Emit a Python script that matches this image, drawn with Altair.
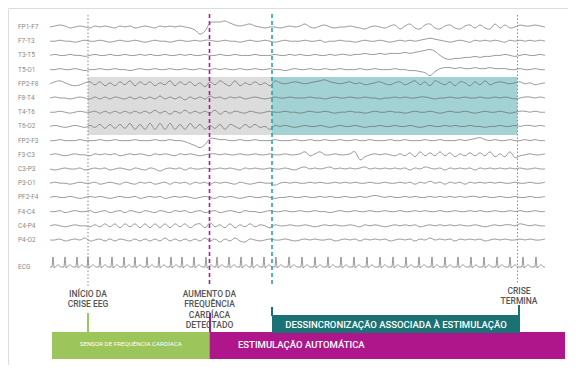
import altair as alt
import pandas as pd

# ---------------- data ----------------
CHANNELS = ["FP1-F7", "F7-T3", "T3-T5", "T5-O1", "FP2-F8", "F8-T4", "T4-T6", "T6-O2",
            "FP2-F3", "F3-C3", "C3-P3", "P3-O1", "PF2-F4", "F4-C4", "C4-P4", "P4-O2"]
T_STEP = 5  # sampling step (time units)

FP1_F7 = [0,1,2,1,-1,0,1,0,-1,1, 0,1,0,-1,1,0,1,-1,0,1, 0,-1,1,0,1,0,1,0,-1,-3,
          -7,-4,4,5,5,6,4,2,1,2, 3,1,0,-1,0,0,-1,0,1,0, 1,3,0,-1,1,2,0,-1,0,0,
          1,0,-1,-2,0,1,0,-1,1,2, -2,1,3,-1,-2,2,3,-1,-2,1, 2,-1,-2,1,2,-1,2,-1,-2,3,
          -1,2,-1,0,2,1,1,2,1,0]
F7_T3 = [0,0,1,0,0,-1,0,1,0,0, 1,0,-1,0,1,0,0,1,0,-1, 0,1,0,0,-1,0,1,0,0,1,
         0,1,1,0,0,1,0,0,-1,0, 1,0,0,1,0,-1,0,1,0,0, 0,1,0,0,1,-1,0,0,1,0,
         0,-1,0,1,0,0,1,0,-1,0, 1,0,1,0,1,2,3,2,1,0, -1,0,1,0,-1,1,0,1,0,1,
         0,-1,1,0,1,0,1,0,1,0]
T3_T5 = [0,1,0,0,1,0,0,-1,0,1, 0,0,1,0,0,1,0,0,1,0, 1,0,0,1,0,0,1,0,1,0,
         0,1,0,0,1,0,0,1,0,0, 0,1,0,0,0,1,0,0,1,0, 1,0,0,1,0,0,1,0,1,1,
         0,1,1,2,1,1,2,1,2,2, 2,3,2,3,4,5,6,4,0,-3, -4,-3,-3,-2,-2,-1,-2,-1,-1,0,
         0,1,0,-1,0,1,0,0,1,0]
T5_O1 = [0,0,1,0,0,1,0,-1,0,0, 1,0,0,1,0,0,-1,0,1,0, 0,1,0,0,1,0,0,1,0,0,
         1,0,0,1,0,1,0,0,1,0, 0,1,0,0,1,0,0,-1,0,1, 0,0,1,0,0,1,0,0,1,0,
         0,0,1,0,0,1,0,0,0,1, 0,0,-1,-1,-2,-3,-6,-2,1,2, 2,1,2,1,1,2,1,1,2,1,
         1,1,0,0,1,0,0,1,0,0]
FP2_F8 = [0,2,3,1,-1,-2,-1,1,2,-1, 2,-2,1,-2,2,-1,3,-2,2,-1, 2,-2,1,-1,3,-2,2,-1,2,-2,
          1,-3,2,-1,3,0,-2,3,-2,1, -1,2,-1,1,-2,3,1,0,1,2, 1,0,1,2,3,4,2,1,0,1,
          2,0,1,-1,0,1,2,0,-1,1, 2,-1,1,3,-1,2,-2,3,1,-1, 2,-2,2,1,-2,2,-1,3,-1,1,
          2,1,0,1,2,0,1,-1,0,1]
F8_T4 = [0,1,0,0,-1,0,1,0,-1,1, -1,1,-1,1,0,-1,1,-1,1,-1, 1,-1,2,-1,1,-1,1,-2,1,-1,
         1,-1,2,0,1,-1,1,0,1,-1, 0,1,0,-1,0,1,0,0,1,0, 0,0,1,0,0,-1,0,1,0,0,
         1,0,0,1,0,0,-1,0,0,1, 0,1,0,0,1,1,0,-1,0,0, 1,0,0,1,0,0,1,0,0,1,
         0,1,0,-1,0,1,1,0,1,0]
T4_T6 = [0,0,1,0,-1,0,1,0,0,1, -1,1,-1,1,-1,1,-1,1,-1,1, -1,2,-1,1,-2,1,-1,2,-1,1,
         -1,1,-1,2,-2,1,-1,1,0,-1, 1,0,-1,0,1,0,0,1,0,0, -1,0,1,0,0,1,0,-1,0,0,
         1,0,0,-1,0,1,0,0,1,0, 0,-1,0,1,0,0,1,0,-1,0, 1,0,0,1,0,-1,0,1,0,0,
         1,0,-1,0,1,1,0,1,0,0]
T6_O2 = [0,1,0,-1,0,1,0,-1,1,-1, 2,-2,2,-2,2,-2,3,-3,2,-3, 3,-3,3,-3,3,-3,2,-3,3,-2,
         2,-3,1,-2,2,-3,2,0,-2,2, -1,2,-1,0,-3,1,0,1,0,-1, 0,1,0,0,1,0,-1,0,1,0,
         0,1,0,-1,0,0,1,0,0,1, 0,0,1,0,-1,0,1,0,0,1, 0,1,0,0,1,0,0,-1,0,0,
         1,0,0,1,0,1,1,0,1,0]
FP2_F3 = [0,0,1,0,0,0,1,0,0,0, 1,0,0,1,0,0,0,1,0,0, 0,1,0,0,1,0,0,-1,-3,-5,
          -7,-4,2,2,1,1,0,0,1,0, 0,1,0,0,0,1,0,0,0,1, 0,0,1,0,0,1,0,0,1,0,
          0,1,0,0,1,0,0,0,1,0, 0,1,0,0,0,1,0,0,1,0, 0,0,1,0,1,2,3,1,0,1,
          0,0,1,0,0,1,0,1,0,0]
F3_C3 = [0,1,0,-1,0,1,0,0,-1,1, 0,1,0,1,-1,0,1,0,1,0, -1,1,0,1,0,-1,1,0,1,0,
         -1,0,1,1,0,1,0,0,1,0, 0,1,0,0,1,0,0,1,0,0, 1,3,-1,1,3,0,0,1,0,0,
         1,3,-5,-2,0,1,0,1,0,-1, 1,-1,2,-2,3,-1,2,-1,3,-1, 2,-2,1,-1,2,-1,2,-1,3,-2,
         1,-2,3,-3,-1,0,1,0,0,1]
C3_P3 = [0,-1,0,1,0,0,1,-1,0,1, 0,1,-1,0,1,0,-1,1,0,-1, 1,0,-2,0,1,0,1,-1,1,0,
         0,1,0,0,1,0,1,0,-1,1, 0,1,0,0,1,0,0,1,0,-1, 1,2,0,1,0,1,2,0,1,0,
         1,0,1,2,0,1,0,1,0,1, 0,1,-1,1,0,2,1,0,1,-1, 1,0,1,0,1,-1,1,0,1,0,
         1,0,1,0,1,0,0,1,0,0]
P3_O1 = [0,1,0,0,-1,0,1,0,0,1, -1,0,1,0,-1,1,0,-1,1,0, 1,-1,0,1,-1,1,0,1,-1,1,
         0,1,-1,1,0,1,0,-1,1,0, -1,0,1,0,0,-2,0,1,0,1, 0,0,1,0,1,0,0,1,0,1,
         0,1,0,0,1,0,0,1,0,0, 1,0,1,-1,1,0,2,0,1,-1, 1,0,1,-1,1,0,1,0,1,0,
         1,0,0,1,0,0,1,0,0,1]
PF2_F4 = [0,1,0,0,1,0,-1,0,1,0, 1,0,-1,0,1,0,0,1,-1,0, 1,0,1,-1,0,1,0,1,0,-1,
          0,1,0,-1,1,0,1,0,-1,0, 1,0,0,1,0,-1,0,0,1,0, 0,1,0,0,1,0,1,0,0,1,
          0,0,1,0,1,2,1,0,1,0, 0,1,0,1,0,0,1,0,1,0, 1,0,1,0,1,1,0,1,0,0,
          1,0,0,1,0,0,1,0,0,1]
F4_C4 = [0,0,1,-1,0,1,0,0,1,-1, 0,1,-1,0,1,-1,1,0,-1,1, 0,-1,1,0,-1,1,0,1,-1,0,
         1,-1,0,1,-1,0,1,0,-1,1, 0,0,-1,0,1,0,0,1,0,0, 1,0,0,1,0,0,-1,0,1,0,
         0,1,0,0,1,0,0,1,0,0, 1,0,0,1,0,1,0,0,1,0, 0,1,0,0,1,0,1,0,0,1,
         0,0,1,0,1,0,0,1,0,0]
C4_P4 = [0,1,0,-1,0,1,0,0,-1,1, -1,2,-1,2,-2,2,-1,2,-2,2, -2,2,-2,2,-2,2,-1,2,-2,1,
         2,-2,3,-1,1,-2,2,-2,1,-1, 2,-1,1,0,-2,1,0,0,1,0, 0,1,0,-1,0,1,0,1,0,0,
         1,0,-1,1,0,1,0,-1,0,1, 0,1,0,1,-1,0,1,0,1,0, 1,0,1,0,0,1,0,-1,0,1,
         0,1,1,0,2,1,0,1,0,0]
P4_O2 = [0,0,1,-1,0,1,0,2,-1,0, 1,-1,1,-1,1,0,-1,1,-1,1, -1,1,-1,2,-1,1,-1,1,-1,1,
         -1,2,-1,1,-2,1,-1,2,-1,-2, 1,0,-1,0,1,0,0,1,0,-1, 0,1,0,1,0,0,1,-1,0,1,
         0,1,-1,1,0,1,0,1,-1,0, 1,0,1,-1,1,0,2,0,1,0, 1,-1,1,0,1,0,1,-1,0,1,
         0,1,0,0,1,0,1,0,0,1]

EEG = [FP1_F7, F7_T3, T3_T5, T5_O1, FP2_F8, F8_T4, T4_T6, T6_O2,
       FP2_F3, F3_C3, C3_P3, P3_O1, PF2_F4, F4_C4, C4_P4, P4_O2]

ECG_BEATS = [3, 15, 27, 38, 50, 62, 74, 85, 97, 109, 121, 132, 144, 156, 167, 179, 191,
             202, 214, 226, 239, 252, 265, 278, 291, 304, 317, 330, 343, 356, 369, 382,
             395, 408, 421, 434, 447, 460, 473, 486]
BEAT_DT = [-1, 0, 1, 2.5, 5, 7.5]
BEAT_AMP = [0, 10, -1, 0, 2.5, 0]
ECG_END = 495

# events (time units)
ONSET, HR_DETECT, STIM_START, SEIZURE_END = 38, 159.5, 222, 467.5
SENSOR_START, STIM_END, DESYNC_END = 2, 515, 470

# ---------------- layout helpers ----------------
AMP = 1 / 14.2          # rows per amplitude unit
ECG_ROW = 16.9
BOX_TOP, BOX_BOTTOM = 3.52, 7.6

rows = []
for i, (name, vals) in enumerate(zip(CHANNELS, EEG)):
    for k, v in enumerate(vals):
        rows.append({"ch": name, "t": k * T_STEP, "y": i - v * AMP})
traces = pd.DataFrame(rows)

ecg_pts = [{"t": 0, "y": ECG_ROW}]
for b in ECG_BEATS:
    for dt, a in zip(BEAT_DT, BEAT_AMP):
        ecg_pts.append({"t": b + dt, "y": ECG_ROW - a * AMP})
ecg_pts.append({"t": ECG_END, "y": ECG_ROW})
ecg = pd.DataFrame(ecg_pts)

labels = pd.DataFrame({"name": CHANNELS + ["ECG"],
                       "y": list(range(len(CHANNELS))) + [ECG_ROW]})

X = alt.Scale(domain=[-42, 518], nice=False, zero=False)
Y = alt.Scale(domain=[-1.338, 23.803], nice=False, zero=False, reverse=True)
FONT = "Roboto"

def xq(f="t"):
    return alt.X(f"{f}:Q", scale=X, axis=None)

def yq(f="y"):
    return alt.Y(f"{f}:Q", scale=Y, axis=None)

boxes = pd.DataFrame({"t": [ONSET, STIM_START], "t2": [STIM_START, SEIZURE_END],
                      "y": [BOX_TOP, BOX_TOP], "y2": [BOX_BOTTOM, BOX_BOTTOM],
                      "c": ["#dcdcdc", "#a3d2d5"]})
box_layer = alt.Chart(boxes).mark_rect().encode(
    x=xq("t"), x2="t2:Q", y=yq("y"), y2="y2:Q",
    color=alt.Color("c:N", scale=None))

trace_layer = alt.Chart(traces).mark_line(
    color="#5e5e5e", opacity=0.62, strokeWidth=1, interpolate="cardinal").encode(
    x=xq(), y=yq(), detail="ch:N", order="t:Q")

ecg_layer = alt.Chart(ecg).mark_line(
    color="#5e5e5e", opacity=0.62, strokeWidth=1).encode(x=xq(), y=yq(), order="t:Q")

label_layer = alt.Chart(labels).mark_text(
    align="left", baseline="middle", font=FONT, fontSize=6.5, color="#8a8a8a").encode(
    x=alt.value(10), y=yq(), text="name:N")

def vline(t, color, dash, width, top, bottom):
    return alt.Chart(pd.DataFrame({"t": [t]})).mark_rule(
        color=color, strokeDash=dash, strokeWidth=width).encode(
        x=xq(), y=alt.value(top), y2=alt.value(bottom))

ev_lines = [
    vline(ONSET, "#8a8a8a", [1.5, 2], 1, 7, 279),
    vline(HR_DETECT, "#b5198f", [4, 3], 1.6, 6, 277),
    vline(STIM_START, "#2aa6a6", [4, 3], 1.6, 6, 277),
    vline(SEIZURE_END, "#8a8a8a", [1.5, 2], 1, 7, 276),
]

def rect(t, t2, color, top, bottom):
    return alt.Chart(pd.DataFrame({"t": [t], "t2": [t2]})).mark_rect(color=color).encode(
        x=xq(), x2="t2:Q", y=alt.value(top), y2=alt.value(bottom))

bars = [
    rect(SENSOR_START, HR_DETECT, "#9cc55c", 324, 351),
    rect(HR_DETECT, STIM_END, "#b0168c", 324, 351),
    rect(STIM_START, DESYNC_END, "#1b7274", 307, 325),
]

ticks = [
    vline(ONSET, "#9cc55c", [1, 0], 2, 305, 324),
    vline(HR_DETECT + 0.5, "#b0168c", [1, 0], 2, 305, 324),
    vline(STIM_START, "#1b7274", [1, 0], 2, 299, 308),
    vline(DESYNC_END - 1, "#1b7274", [1, 0], 2, 297, 308),
]

def text(t, s, top, size, color, align="center", baseline="top", weight="normal"):
    return alt.Chart(pd.DataFrame({"t": [t], "s": [s]})).mark_text(
        align=align, baseline=baseline, font=FONT, fontSize=size, color=color,
        lineBreak="\n", lineHeight=10.4, fontWeight=weight).encode(
        x=xq(), y=alt.value(top), text="s:N")

texts = [
    text(ONSET, "INÍCIO DA\nCRISE EEG", 282, 8.5, "#555555", weight=500),
    text(HR_DETECT, "AUMENTO DA\nFREQUÊNCIA\nCARDÍACA\nDETECTADO", 282, 8.5, "#555555",
         weight=500),
    text(SEIZURE_END + 1.5, "CRISE\nTERMINA", 279, 8.5, "#555555", weight=500),
    text((STIM_START + DESYNC_END) / 2, "DESSINCRONIZAÇÃO ASSOCIADA À ESTIMULAÇÃO",
         316.5, 9.5, "white", baseline="middle", weight=500),
    text(HR_DETECT + 28.5, "ESTIMULAÇÃO AUTOMÁTICA", 337, 9.5, "white",
         align="left", baseline="middle", weight=500),
    text((SENSOR_START + HR_DETECT) / 2, "SENSOR DE FREQUÊNCIA CARDÍACA", 335.5, 6.2,
         "white", baseline="middle"),
]

chart = alt.layer(
    box_layer, trace_layer, ecg_layer, label_layer, *ev_lines, *bars, *ticks, *texts
).properties(
    width=560, height=357, padding=0,
    autosize=alt.AutoSizeParams(type="fit", contains="padding"),
).configure_view(stroke=None).configure(background="white")

chart.save("out.html", embed_options={"renderer": "svg", "actions": False})
